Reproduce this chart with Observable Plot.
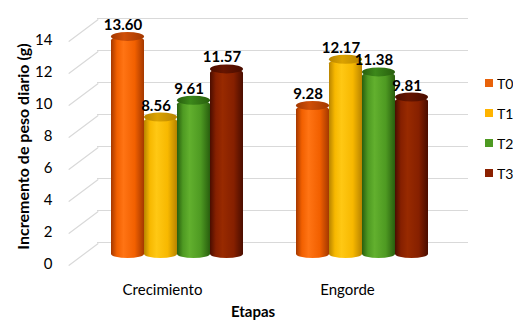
<!DOCTYPE html>
<html>
<head>
<meta charset="utf-8">
<script src="https://cdn.jsdelivr.net/npm/d3@7"></script>
<script src="https://cdn.jsdelivr.net/npm/@observablehq/plot@0.6"></script>
<style>
  body { margin: 0; background: #fff; }
  #chart { position: relative; width: 515px; height: 321px; overflow: hidden; font-family: Lato, sans-serif; }
  #chart > svg { position: absolute; left: 0; top: 0; }
  #legend { position: absolute; left: 485px; top: 68px; }
  div.lg-swatch { height: 30px; padding-bottom: 0 !important; }
  div.lg-swatch > svg { margin-right: 4px !important; }
</style>
</head>
<body>
<div id="chart"></div>
<script>
// Daily weight gain per treatment, by production stage
const stages = ["Crecimiento", "Engorde"];
const treatments = ["T0", "T1", "T2", "T3"];
const crecimiento = [13.60, 8.56, 9.61, 11.57];
const engorde = [9.28, 12.17, 11.38, 9.81];
const yTicks = [0, 2, 4, 6, 8, 10, 12, 14];

// Cylinder shading per treatment: edge shade, body tone, highlight, top face, legend swatch
const darkTones = ["#a43800", "#b88400", "#285e0e", "#4a0d00"];
const baseTones = ["#f26000", "#f7b800", "#4e9a22", "#862000"];
const lightTones = ["#ff7414", "#ffc814", "#62b02e", "#982a00"];
const capTones = ["#cf4f08", "#dba200", "#3c881a", "#661500"];
const swatchTones = ["#e8620a", "#ffb400", "#4e9a22", "#8b2000"];

const data = [];
stages.forEach((s, i) => {
  const vals = i === 0 ? crecimiento : engorde;
  treatments.forEach((t, j) => data.push({stage: s, t, v: vals[j]}));
});

// Gradient definitions referenced by the bar fills
const defs = d3.select("body").append("svg")
  .attr("width", 0).attr("height", 0)
  .style("position", "absolute")
  .append("defs");
treatments.forEach((t, j) => {
  const g = defs.append("linearGradient").attr("id", `body-${t}`)
    .attr("x1", 0).attr("x2", 1).attr("y1", 0).attr("y2", 0);
  [[0, darkTones[j]], [0.18, baseTones[j]], [0.38, lightTones[j]], [0.72, baseTones[j]], [1, darkTones[j]]]
    .forEach(([o, c]) => g.append("stop").attr("offset", o).attr("stop-color", c));
  const c = defs.append("linearGradient").attr("id", `cap-${t}`)
    .attr("x1", 0).attr("x2", 1).attr("y1", 0).attr("y2", 0);
  [[0, darkTones[j]], [0.4, capTones[j]], [1, darkTones[j]]]
    .forEach(([o, col]) => c.append("stop").attr("offset", o).attr("stop-color", col));
});

// Shared frame and scales for both layers
const frame = {
  width: 515,
  height: 321,
  marginLeft: 83,
  marginRight: 61,
  marginTop: 30,
  marginBottom: 67,
  style: {fontFamily: "Lato, sans-serif", fontSize: "14px", color: "#000", background: "transparent"}
};
const stageBand = {domain: stages, paddingInner: 0.272, paddingOuter: 0.136};

// Plain line shape for the wall-to-floor grid diagonals
const segment = {draw(context, l) { context.moveTo(0, 0); context.lineTo(0, -l); }};
const gridColor = "#d9d9d9";

// Layer 1: walls, axes and titles
const walls = Plot.plot({
  ...frame,
  x: {...stageBand, label: null},
  y: {domain: [0, 14], label: null},
  marks: [
    Plot.ruleY(yTicks, {stroke: gridColor, strokeWidth: 1.2, dx: 14, dy: -12}),
    Plot.vector(yTicks, {y: d => d, frameAnchor: "left", length: 36, rotate: 53,
      anchor: "middle", shape: segment, stroke: gridColor, strokeWidth: 1.2}),
    Plot.axisY(yTicks, {tickSize: 0, tickPadding: 31, dy: 10, fontSize: 15, label: null}),
    Plot.axisX({tickSize: 0, tickPadding: 30, dx: -14, fontSize: 15, label: null}),
    Plot.text(["Incremento de peso diario (g)"], {frameAnchor: "left", textAnchor: "middle",
      rotate: -90, dx: -60, dy: 4, fontWeight: "bold", fontSize: 16}),
    Plot.text(["Etapas"], {frameAnchor: "bottom", dy: 62, dx: -16,
      fontWeight: "bold", fontSize: 15})
  ]
});

// Layer 2: grouped cylinders with value labels
const bars = Plot.plot({
  ...frame,
  fx: {...stageBand, axis: null},
  x: {domain: treatments, padding: 0, axis: null},
  y: {domain: [0, 14], axis: null},
  color: {type: "identity"},
  marks: [
    Plot.barY(data, {fx: "stage", x: "t", y: "v", fill: d => `url(#body-${d.t})`,
      rx: 17, ry: 4, insetBottom: -4}),
    Plot.barY(data, {fx: "stage", x: "t", y1: "v", y2: "v", fill: d => `url(#cap-${d.t})`,
      rx: 17, ry: 4.5, insetTop: -4.5, insetBottom: -4.5}),
    Plot.text(data, {fx: "stage", x: "t", y: "v", text: d => d.v.toFixed(2),
      lineAnchor: "bottom", dy: -7, dx: -5, fontWeight: "bold", fontSize: 15})
  ]
});

const legend = Plot.legend({
  color: {type: "ordinal", domain: treatments, range: swatchTones},
  legend: "swatches",
  columns: 1,
  swatchSize: 8,
  className: "lg",
  style: {fontFamily: "Lato, sans-serif", fontSize: "14px", color: "#000"}
});
legend.id = "legend";

const root = document.getElementById("chart");
root.appendChild(walls);
root.appendChild(bars);
root.appendChild(legend);
</script>
</body>
</html>
